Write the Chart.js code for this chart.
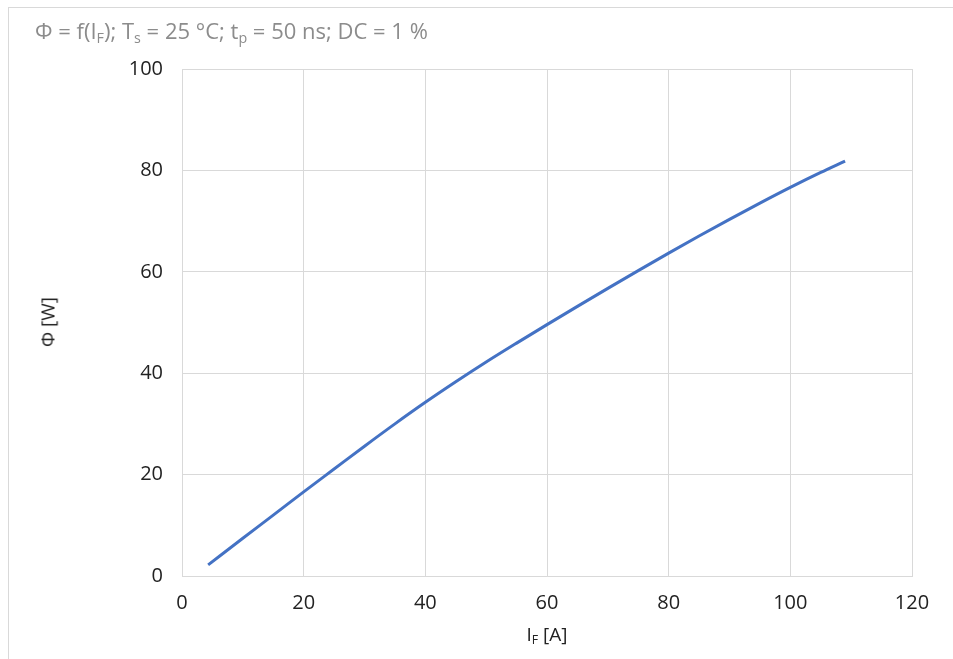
<!DOCTYPE html>
<html>
<head>
<meta charset="utf-8">
<script src="https://cdn.jsdelivr.net/npm/chart.js@4"></script>
<style>
  html, body { margin:0; padding:0; background:#fff; }
  #wrap { position:relative; width:953px; height:659px; overflow:hidden; font-family:"Open Sans", sans-serif; }
  #frame { position:absolute; left:8px; top:7px; width:1000px; height:700px; border-top:1px solid #d9d9d9; border-left:1px solid #d9d9d9; }
  canvas { position:absolute; left:0; top:0; }
  .t { position:absolute; white-space:nowrap; line-height:1; }
  sub { font-size:65%; vertical-align:-0.25em; }
  #title { left:35px; top:19px; font-size:22px; color:#8c8c8c; }
  #ytitle { left:48px; top:322px; font-size:19px; color:#222; transform:translate(-50%,-50%) rotate(-90deg); }
  #xtitle { left:547px; top:636px; font-size:19px; color:#222; transform:translate(-50%,-50%); }
</style>
</head>
<body>
<div id="wrap">
  <div id="frame"></div>
  <canvas id="c" width="953" height="659"></canvas>
  <div class="t" id="title">Φ = f(I<sub>F</sub>); T<sub>s</sub> = 25 °C; t<sub>p</sub> = 50 ns; DC = 1 %</div>
  <div class="t" id="ytitle">Φ [W]</div>
  <div class="t" id="xtitle">I<sub>F</sub> [A]</div>
</div>
<script>
const currentA = [4.3, 10, 15, 20, 25, 30, 35, 40, 45, 50, 55, 60, 65, 70, 75, 80, 85, 90, 95, 100, 105, 109];
const fluxW    = [2.2, 7.44, 12.0, 16.6, 21.1, 25.6, 30.0, 34.25, 38.3, 42.2, 45.93, 49.58, 53.18, 56.73, 60.23, 63.68, 67.05, 70.35, 73.55, 76.65, 79.6, 81.84];
const xTicks = [0, 20, 40, 60, 80, 100, 120];
const yTicks = [0, 20, 40, 60, 80, 100];

const points = currentA.map((x, i) => ({ x: x, y: fluxW[i] }));
const gridColor = '#d9d9d9';
const tickFont = { family: '"Open Sans", sans-serif', size: 20 };

new Chart(document.getElementById('c'), {
  type: 'line',
  data: {
    datasets: [{
      data: points,
      borderColor: '#4472c4',
      borderWidth: 3,
      pointRadius: 0,
      cubicInterpolationMode: 'monotone',
      fill: false
    }]
  },
  options: {
    responsive: false,
    animation: false,
    devicePixelRatio: 1,
    layout: { padding: { left: 0, top: 69, right: 41, bottom: 0 } },
    plugins: { legend: { display: false }, tooltip: { enabled: false }, title: { display: false } },
    scales: {
      x: {
        type: 'linear',
        min: xTicks[0], max: xTicks[xTicks.length - 1],
        afterBuildTicks: s => { s.ticks = xTicks.map(v => ({ value: v })); },
        afterFit: s => { s.height = 83; },
        grid: { color: gridColor, drawTicks: false, lineWidth: 1 },
        border: { color: gridColor },
        ticks: { font: tickFont, color: '#222', padding: 15, maxRotation: 0 }
      },
      y: {
        type: 'linear',
        min: yTicks[0], max: yTicks[yTicks.length - 1],
        afterBuildTicks: s => { s.ticks = yTicks.map(v => ({ value: v })); },
        afterFit: s => { s.width = 182; },
        grid: { color: gridColor, drawTicks: false, lineWidth: 1 },
        border: { color: gridColor },
        ticks: { font: tickFont, color: '#222', padding: 19 }
      }
    }
  }
});
</script>
</body>
</html>
